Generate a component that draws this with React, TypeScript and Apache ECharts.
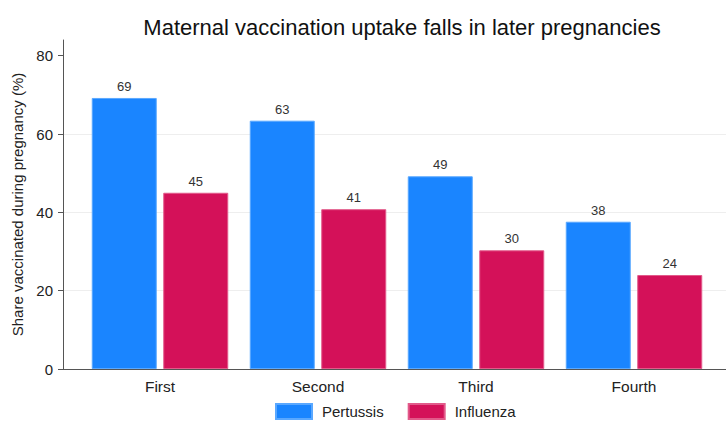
import React, { useEffect, useRef } from "react";
import * as echarts from "echarts";

const categories = ["First", "Second", "Third", "Fourth"];
const pertussis = [69.2, 63.4, 49.2, 37.6];
const influenza = [45.0, 40.8, 30.3, 24.0];
const yTicks = [0, 20, 40, 60, 80];

export default function App() {
  const ref = useRef<HTMLDivElement>(null);
  useEffect(() => {
    if (!ref.current) return;
    const chart = echarts.init(ref.current, undefined, { renderer: "svg" });
    const font = "Liberation Sans, Arial, Helvetica, sans-serif";
    const top = 40;
    const bottom = 52;
    chart.setOption({
      animation: false,
      textStyle: { fontFamily: font },
      title: {
        text: "Maternal vaccination uptake falls in later pregnancies",
        left: 397,
        top: 11,
        textAlign: "center",
        textStyle: { fontSize: 22, fontWeight: "normal", color: "#111", fontFamily: font },
      },
      legend: {
        left: 275,
        top: 403,
        padding: 0,
        icon: "rect",
        itemWidth: 36,
        itemHeight: 15,
        itemGap: 24,
        textStyle: { fontSize: 15, color: "#222", padding: [0, 0, 0, 5], fontFamily: font },
        data: ["Pertussis", "Influenza"],
      },
      grid: [
        { left: 63, right: 0, top, bottom },
        { left: 81, right: 13, top, bottom },
      ],
      xAxis: [
        {
          gridIndex: 0,
          type: "value",
          min: 0,
          max: 1,
          axisLine: { show: true, lineStyle: { color: "#555", width: 1 } },
          axisTick: { show: false },
          axisLabel: { show: false },
          splitLine: { show: false },
        },
        {
          gridIndex: 1,
          type: "category",
          data: categories,
          axisLine: { show: false },
          axisTick: { show: false },
          axisLabel: { fontSize: 15.5, color: "#222", margin: 9, fontFamily: font },
        },
      ],
      yAxis: [
        {
          gridIndex: 0,
          type: "value",
          min: 0,
          max: 84,
          interval: 20,
          name: "Share vaccinated during pregnancy (%)",
          nameLocation: "middle",
          nameRotate: 90,
          nameGap: 38,
          nameTextStyle: { fontSize: 15, color: "#222", fontFamily: font },
          axisLine: { show: true, lineStyle: { color: "#555", width: 1 } },
          axisTick: { show: true, length: 5, lineStyle: { color: "#555" }, customValues: yTicks },
          axisLabel: { fontSize: 15, color: "#222", margin: 10, customValues: yTicks, fontFamily: font },
          splitLine: { show: true, showMaxLine: false, showMinLine: false, lineStyle: { color: "#eeeeee", width: 1 } },
        },
        {
          gridIndex: 1,
          type: "value",
          min: 0,
          max: 84,
          show: false,
          splitLine: { show: false },
        },
      ],
      series: [
        {
          name: "Pertussis",
          type: "bar",
          xAxisIndex: 1,
          yAxisIndex: 1,
          data: pertussis,
          barWidth: 65,
          barGap: "10%",
          itemStyle: { color: "#1a85ff", borderColor: "#5aa8ff", borderWidth: 1 },
          label: {
            show: true,
            position: "top",
            distance: 5,
            fontSize: 13,
            color: "#333",
            fontFamily: font,
            formatter: (p: any) => String(Math.round(p.value)),
          },
        },
        {
          name: "Influenza",
          type: "bar",
          xAxisIndex: 1,
          yAxisIndex: 1,
          data: influenza,
          barWidth: 65,
          barGap: "10%",
          itemStyle: { color: "#d41159", borderColor: "#e25a8a", borderWidth: 1 },
          label: {
            show: true,
            position: "top",
            distance: 5,
            fontSize: 13,
            color: "#333",
            fontFamily: font,
            formatter: (p: any) => String(Math.round(p.value)),
          },
        },
      ],
    });
    return () => chart.dispose();
  }, []);
  return (
    <div
      ref={ref}
      style={{ position: "fixed", left: 0, top: 0, width: 726, height: 421, background: "#fff" }}
    />
  );
}
